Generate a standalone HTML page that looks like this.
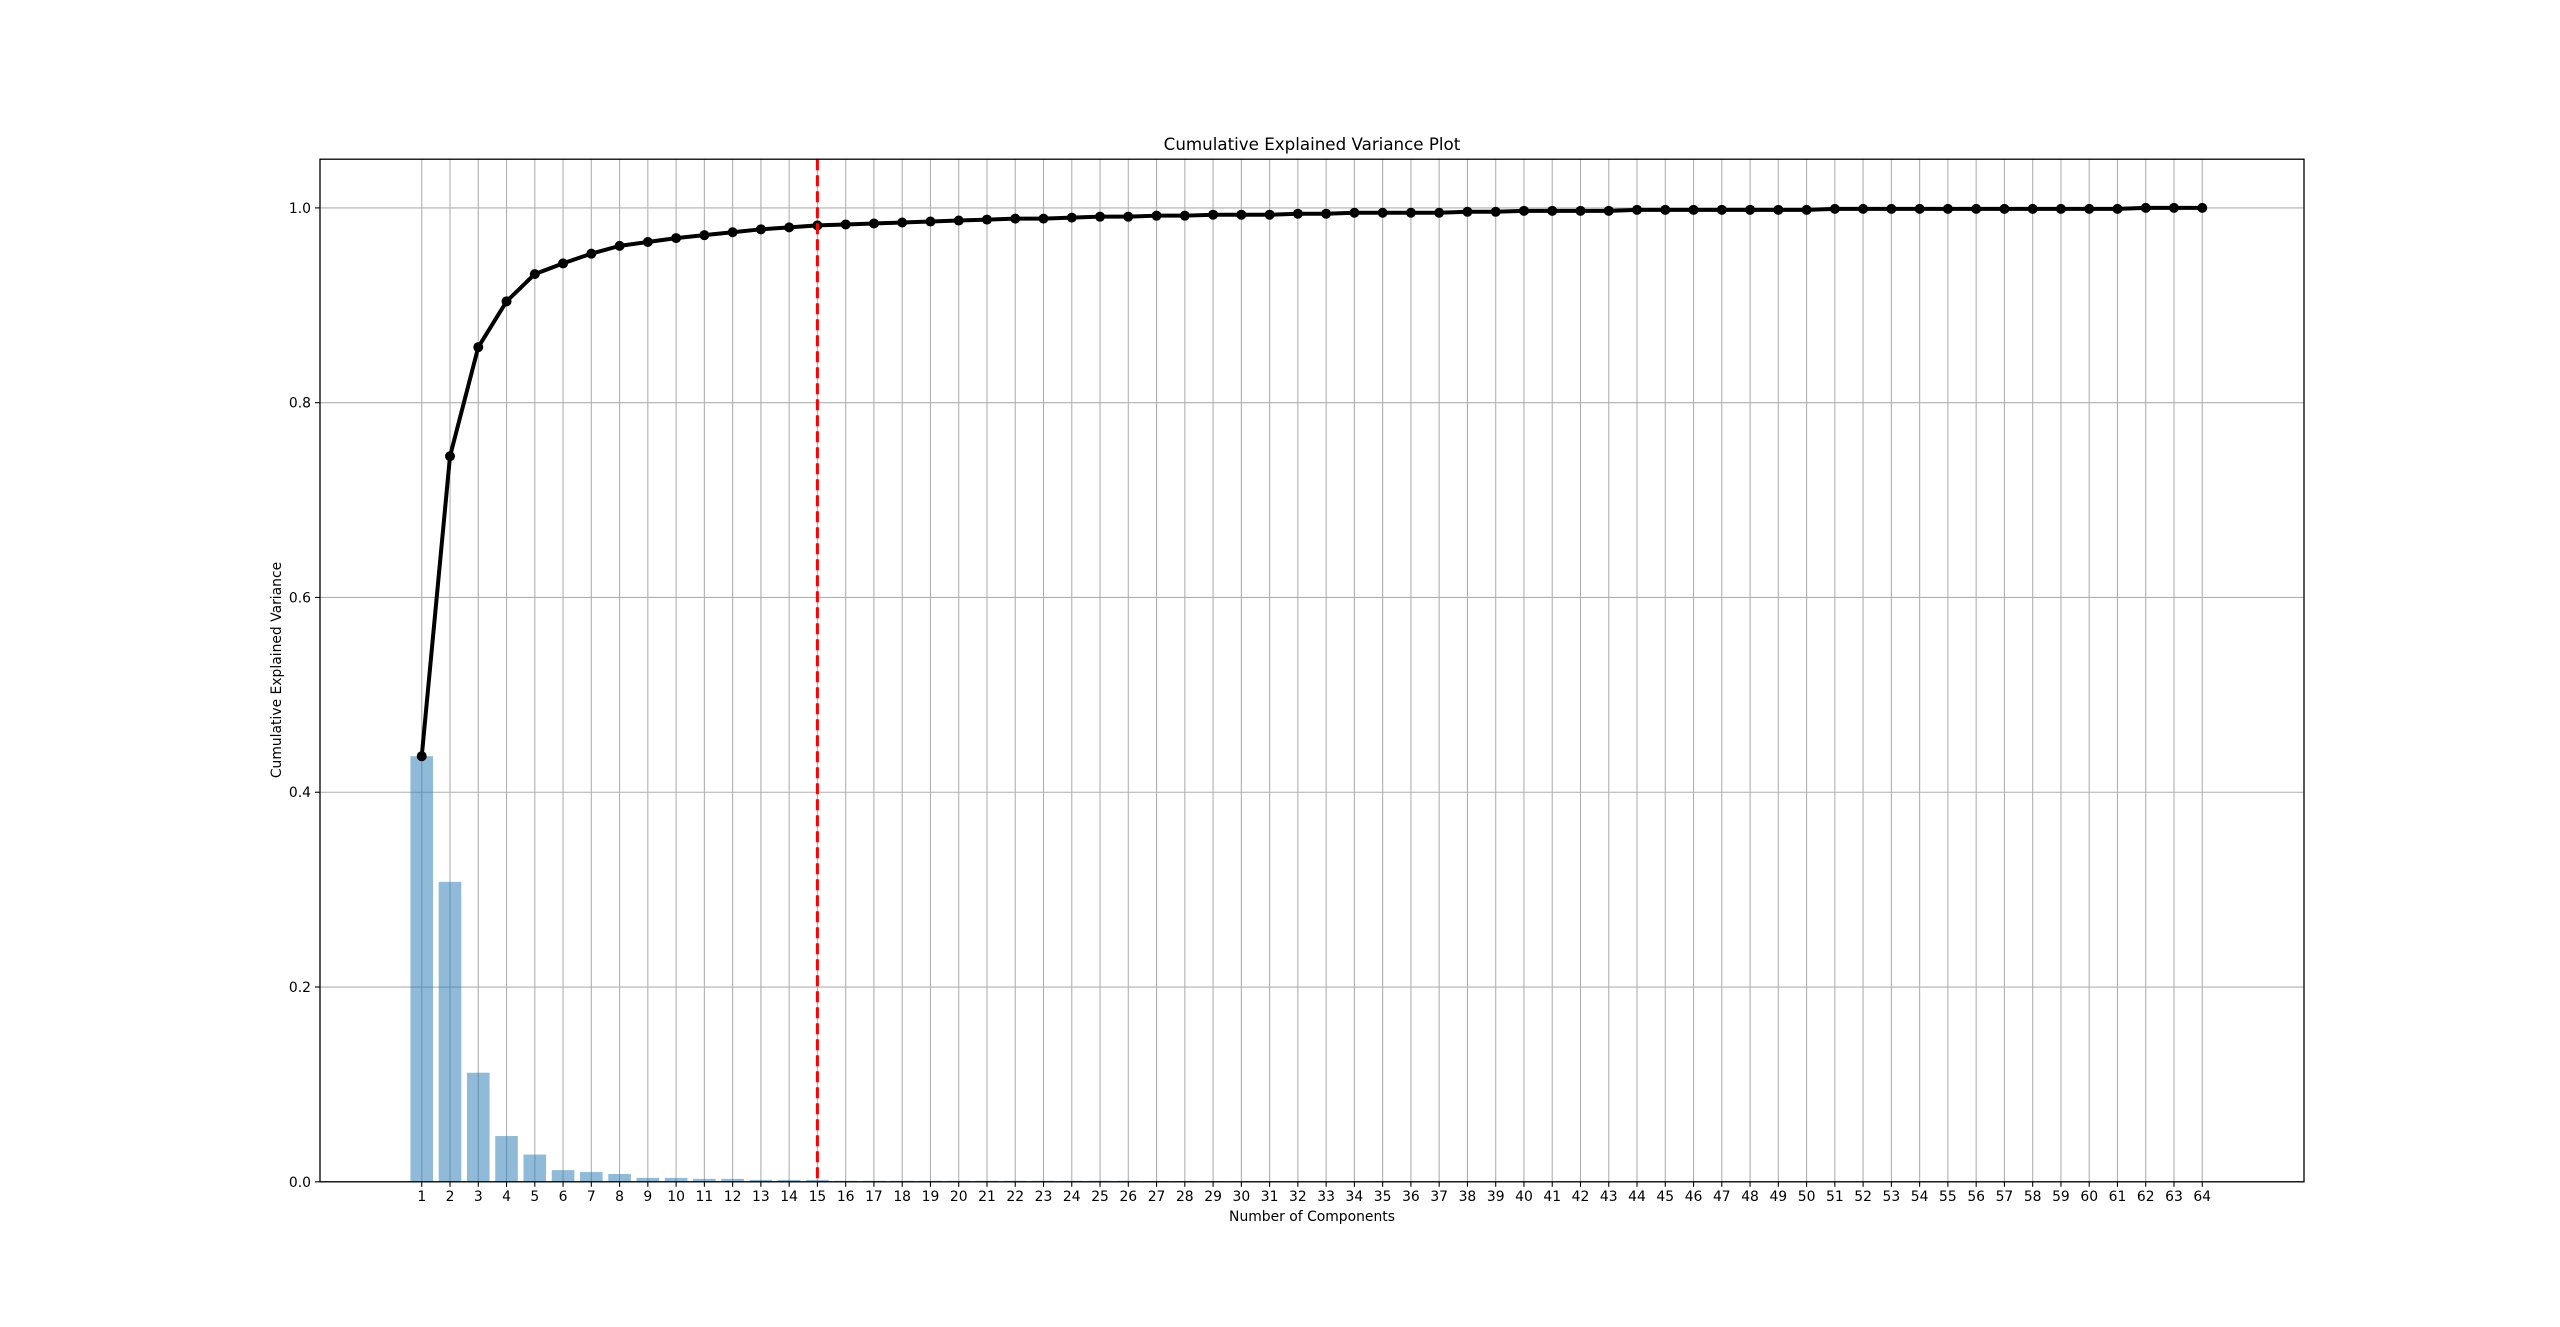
<!DOCTYPE html>
<html><head><meta charset="utf-8"><style>
html,body{margin:0;padding:0;background:#fff;}
svg{display:block;font-family:"DejaVu Sans","Liberation Sans",sans-serif;}
</style></head><body>
<svg id="chart" width="2560" height="1327" viewBox="0 0 2560 1327">
<rect x="0" y="0" width="2560" height="1327" fill="#fff"/>
<text x="1312" y="150" font-size="16.7" text-anchor="middle">Cumulative Explained Variance Plot</text>
<text x="1312" y="1221" font-size="13.9" text-anchor="middle">Number of Components</text>
<text x="0" y="0" font-size="13.9" text-anchor="middle" transform="translate(281,670) rotate(-90)">Cumulative Explained Variance</text>
<g id="grid"></g><g id="bars"></g><g id="line"></g><g id="ticks"></g>
</svg>
<script>
const components = Array.from({length:64},(_,i)=>i+1);
const individualVariance = [0.437,0.308,0.112,0.047,0.028,0.012,0.010,0.008,0.004,0.004,0.003,0.003,0.002,0.002,0.002,0.001,0.001,0.001,0.001,0.001,0.001,0.001,0.001,0.001,0.001,0.001,0.0008,0.0007,0.0007,0.0006,0.0006,0.0005,0.0005,0.0005,0.0004,0.0004,0.0004,0.0004,0.0003,0.0003,0.0003,0.0003,0.0003,0.0003,0.0002,0.0002,0.0002,0.0002,0.0002,0.0002,0.0002,0.0001,0.0001,0.0001,0.0001,0.0001,0.0001,0.0001,0.0001,0.0001,0.0001,0.0001,0.0001,0.0001];
const cumulativeVariance = [0.437,0.745,0.857,0.904,0.932,0.943,0.953,0.961,0.965,0.969,0.972,0.975,0.978,0.980,0.982,0.983,0.984,0.985,0.986,0.987,0.988,0.989,0.989,0.990,0.991,0.991,0.992,0.992,0.993,0.993,0.993,0.994,0.994,0.995,0.995,0.995,0.995,0.996,0.996,0.997,0.997,0.997,0.997,0.998,0.998,0.998,0.998,0.998,0.998,0.998,0.999,0.999,0.999,0.999,0.999,0.999,0.999,0.999,0.999,0.999,0.999,1.000,1.000,1.000];
const yTicks = [0.0,0.2,0.4,0.6,0.8,1.0];
const yTickLabels = ["0.0","0.2","0.4","0.6","0.8","1.0"];
const thresholdComponent = [15];

const L=320,R=2304,T=159.2,B=1181.8;
const X0=-2.6,X1=67.6,Y0=0,Y1=1.05;
const xs=v=>L+(v-X0)/(X1-X0)*(R-L);
const ys=v=>B-(v-Y0)/(Y1-Y0)*(B-T);
const NS="http://www.w3.org/2000/svg";
function mk(tag,attrs,parent){const e=document.createElementNS(NS,tag);for(const k in attrs)e.setAttribute(k,attrs[k]);parent.appendChild(e);return e;}
const grid=document.getElementById('grid'),bars=document.getElementById('bars'),line=document.getElementById('line'),ticks=document.getElementById('ticks');

components.forEach(c=>{
  const g=mk('line',{x1:xs(c),x2:xs(c),y1:T,y2:B,stroke:'#b0b0b0','stroke-width':1.1},grid);
  
  
  const t=mk('line',{x1:xs(c),x2:xs(c),y1:B,y2:B+5,stroke:'#000','stroke-width':1.1},ticks);
  
  
  const lb=mk('text',{x:xs(c),y:B+19,'font-size':13.9,'text-anchor':'middle'},ticks);
  lb.textContent=String(c);
  
  
});
yTicks.forEach((v,i)=>{
  const g=mk('line',{x1:L,x2:R,y1:ys(v),y2:ys(v),stroke:'#b0b0b0','stroke-width':1.1},grid);
  
  
  const t=mk('line',{x1:L-5,x2:L,y1:ys(v),y2:ys(v),stroke:'#000','stroke-width':1.1},ticks);
  
  
  const lb=mk('text',{x:L-9,y:ys(v)+5,'font-size':13.9,'text-anchor':'end'},ticks);
  lb.textContent=yTickLabels[i];
  
  
});
const bw=(xs(1.4)-xs(0.6));
individualVariance.forEach((v,i)=>{
  const c=components[i];
  const b=mk('rect',{x:xs(c)-bw/2,y:ys(v),width:bw,height:Math.max(0,ys(0)-ys(v)),fill:'#1f77b4','fill-opacity':0.5},bars);
  
  
});
const pts=cumulativeVariance.map((v,i)=>xs(components[i])+','+ys(v)).join(' ');
const pl=mk('polyline',{points:pts,fill:'none',stroke:'#000','stroke-width':4,'stroke-linejoin':'round'},line);


cumulativeVariance.forEach((v,i)=>{
  const m=mk('circle',{cx:xs(components[i]),cy:ys(v),r:5,fill:'#000'},line);
  
  
});
const th=mk('line',{x1:xs(thresholdComponent[0]),x2:xs(thresholdComponent[0]),y1:T,y2:B,stroke:'#ff0000','stroke-width':3,'stroke-dasharray':'11,5'},line);


const fr=mk('rect',{x:L,y:T,width:R-L,height:B-T,fill:'none',stroke:'#000','stroke-width':1.3},ticks);


</script>
</body></html>
